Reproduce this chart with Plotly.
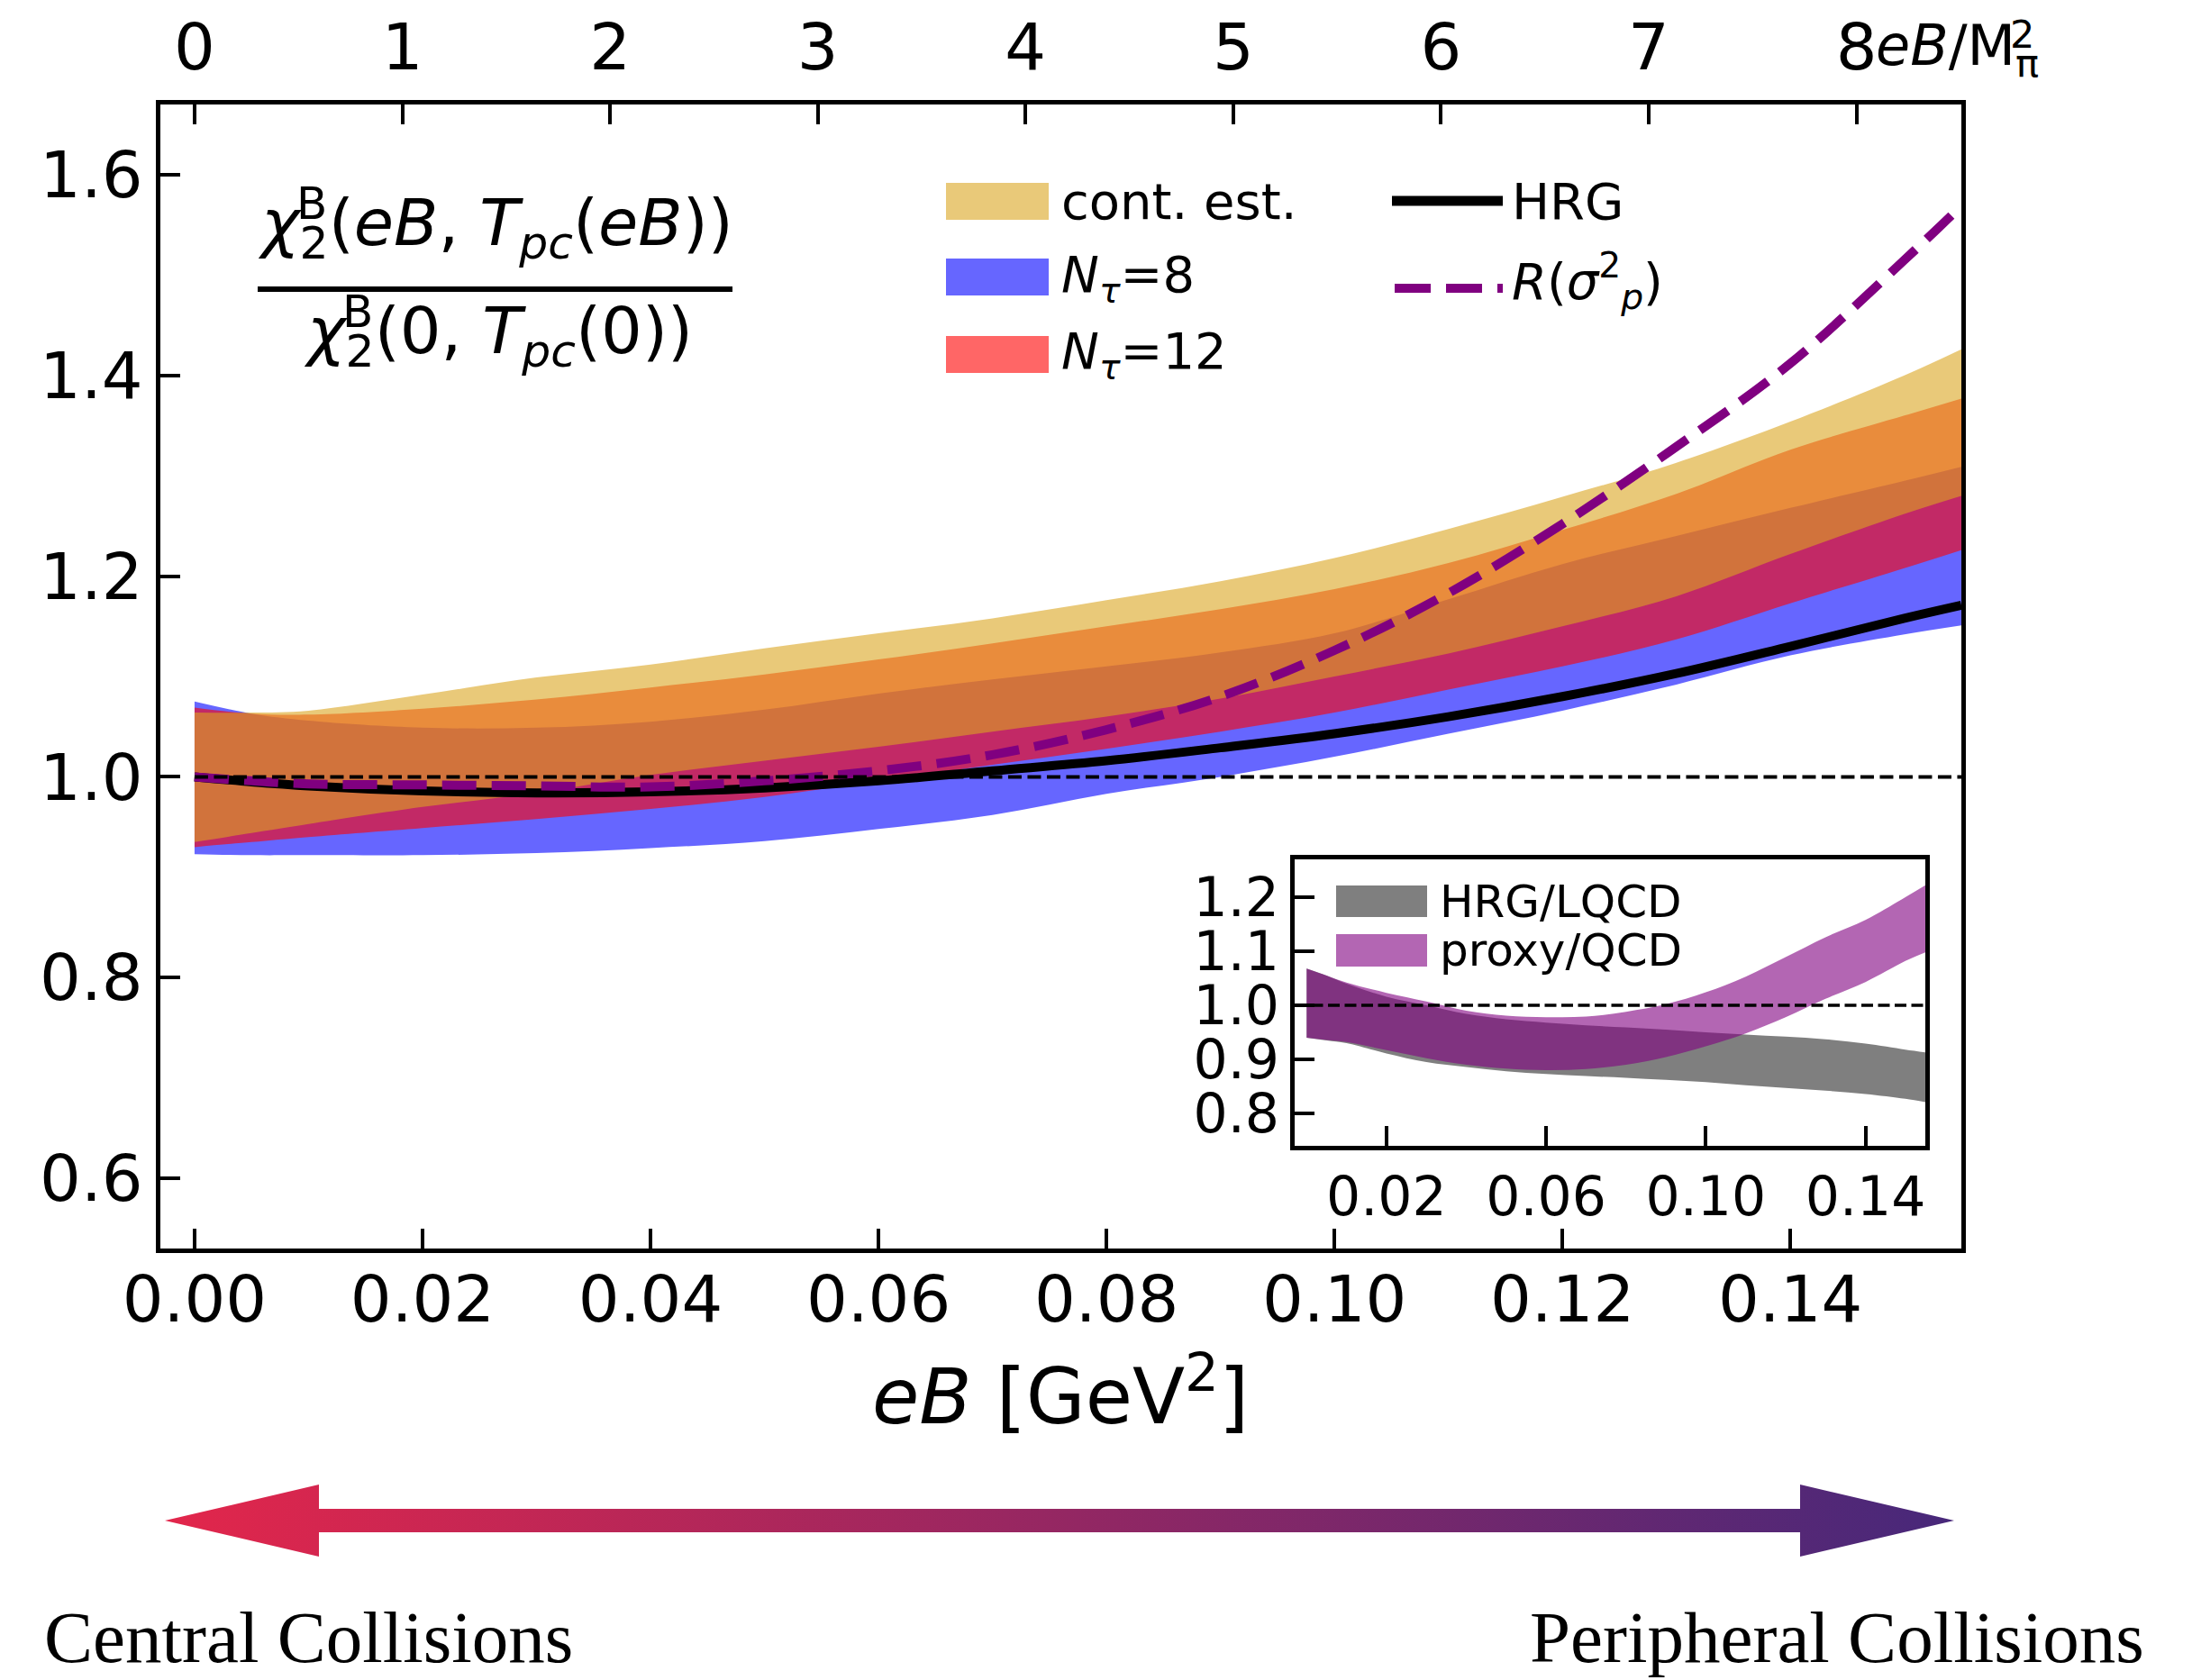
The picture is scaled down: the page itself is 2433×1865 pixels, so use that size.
import plotly.graph_objects as go

W, H = 2433, 1865

# ---------------- data ----------------
eB = [0.0, 0.005, 0.01, 0.02, 0.03, 0.04, 0.05, 0.06, 0.07, 0.08,
      0.09, 0.10, 0.11, 0.12, 0.13, 0.14, 0.15, 0.155]

nt8_lo = [0.923, 0.922, 0.922, 0.922, 0.924, 0.929, 0.936, 0.948, 0.962, 0.983,
          1.000, 1.020, 1.043, 1.066, 1.092, 1.121, 1.142, 1.151]
nt8_hi = [1.075, 1.063, 1.056, 1.049, 1.049, 1.055, 1.067, 1.083, 1.097, 1.110,
          1.124, 1.143, 1.177, 1.212, 1.240, 1.268, 1.295, 1.309]
nt12_lo = [0.930, 0.935, 0.940, 0.949, 0.958, 0.968, 0.980, 0.996, 1.012, 1.028,
           1.045, 1.064, 1.087, 1.110, 1.137, 1.173, 1.208, 1.226]
nt12_hi = [1.069, 1.063, 1.062, 1.068, 1.077, 1.089, 1.102, 1.117, 1.133, 1.150,
           1.167, 1.187, 1.213, 1.246, 1.282, 1.326, 1.360, 1.377]
cont_lo = [0.935, 0.944, 0.953, 0.970, 0.984, 1.002, 1.016, 1.030, 1.045, 1.060,
           1.078, 1.100, 1.123, 1.150, 1.180, 1.222, 1.262, 1.280]
cont_hi = [1.064, 1.064, 1.066, 1.082, 1.099, 1.112, 1.128, 1.143, 1.158, 1.176,
           1.195, 1.218, 1.247, 1.279, 1.313, 1.354, 1.400, 1.426]
hrg = [1.000, 0.995, 0.991, 0.986, 0.984, 0.985, 0.989, 0.996, 1.006, 1.016,
       1.029, 1.043, 1.060, 1.080, 1.103, 1.130, 1.158, 1.171]
r_sigma = [1.000, 0.996, 0.993, 0.992, 0.991, 0.990, 0.996, 1.006, 1.022, 1.047,
           1.080, 1.126, 1.183, 1.252, 1.329, 1.412, 1.515, 1.569]

# inset ratios
hrg_lqcd_lo = [0.940, 0.935, 0.930, 0.911, 0.895, 0.886, 0.878, 0.873, 0.869, 0.866,
               0.862, 0.858, 0.852, 0.847, 0.842, 0.836, 0.827, 0.821]
hrg_lqcd_hi = [1.068, 1.055, 1.040, 1.016, 1.000, 0.984, 0.974, 0.968, 0.963, 0.959,
               0.955, 0.950, 0.946, 0.942, 0.937, 0.929, 0.918, 0.913]
proxy_lo = [0.940, 0.936, 0.932, 0.917, 0.902, 0.890, 0.883, 0.880, 0.882, 0.890,
            0.904, 0.924, 0.948, 0.978, 1.012, 1.043, 1.082, 1.098]
proxy_hi = [1.068, 1.055, 1.042, 1.023, 1.007, 0.990, 0.981, 0.978, 0.979, 0.988,
            1.002, 1.024, 1.053, 1.089, 1.126, 1.158, 1.200, 1.222]

x_ticks = [0.00, 0.02, 0.04, 0.06, 0.08, 0.10, 0.12, 0.14]
y_ticks = [0.6, 0.8, 1.0, 1.2, 1.4, 1.6]
top_ticks = [0, 1, 2, 3, 4, 5, 6, 7, 8]
inset_x_ticks = [0.02, 0.06, 0.10, 0.14]
inset_y_ticks = [0.8, 0.9, 1.0, 1.1, 1.2]

X_RANGE = [-0.003, 0.155]
Y_RANGE = [0.53, 1.67]
INSET_Y_RANGE = [0.74, 1.27]
M_PI2 = 0.135 ** 2
REF_LEVEL = 1.0

# ---------------- styles ----------------
BLUE = 'rgba(0,0,255,0.6)'
RED = 'rgba(255,0,0,0.6)'
GOLD = 'rgba(218,165,32,0.6)'
GRAY = 'rgba(0,0,0,0.5)'
PURP = 'rgba(128,0,128,0.6)'
FONT = 'DejaVu Sans'

fig = go.Figure()


def band(lo, hi, color, xa='x', ya='y'):
    fig.add_trace(go.Scatter(x=eB, y=lo, xaxis=xa, yaxis=ya, mode='lines',
                             line=dict(width=0, shape='spline'),
                             showlegend=False, hoverinfo='skip'))
    fig.add_trace(go.Scatter(x=eB, y=hi, xaxis=xa, yaxis=ya, mode='lines',
                             line=dict(width=0, shape='spline'),
                             fill='tonexty', fillcolor=color,
                             showlegend=False, hoverinfo='skip'))


# main bands
band(nt8_lo, nt8_hi, BLUE)
band(nt12_lo, nt12_hi, RED)
band(cont_lo, cont_hi, GOLD)

fig.add_trace(go.Scatter(x=eB, y=hrg, mode='lines',
                         line=dict(color='black', width=10, shape='spline'),
                         showlegend=False))
fig.add_trace(go.Scatter(x=eB, y=r_sigma, mode='lines',
                         line=dict(color='#800080', width=10, shape='spline',
                                   dash='38px,17px'),
                         showlegend=False))

# dummy trace for the top axis
fig.add_trace(go.Scatter(x=[], y=[], xaxis='x2', yaxis='y', showlegend=False))

# inset bands
band(hrg_lqcd_lo, hrg_lqcd_hi, GRAY, 'x4', 'y4')
band(proxy_lo, proxy_hi, PURP, 'x4', 'y4')

# decorative arrow (pixel-coordinate helper axes)
ax_l, ax_r = 183, 2169
hb_l, hb_r = 354, 1998
yc, shaft_h, head_h = 1688, 13, 40
arrow_x = [ax_l, hb_l, hb_l, hb_r, hb_r, ax_r, hb_r, hb_r, hb_l, hb_l, ax_l]
arrow_y = [yc, yc - head_h, yc - shaft_h, yc - shaft_h, yc - head_h, yc,
           yc + head_h, yc + shaft_h, yc + shaft_h, yc + head_h, yc]
fig.add_trace(go.Scatter(x=arrow_x, y=arrow_y, xaxis='x3', yaxis='y3',
                         mode='lines', line=dict(width=0), fill='toself',
                         fillgradient=dict(type='horizontal',
                                           colorscale=[[0, '#e2264b'], [1, '#47287a']]),
                         showlegend=False, hoverinfo='skip'))

# ---------------- axes ----------------
common = dict(showgrid=False, zeroline=False, ticks='inside', color='black',
              automargin=False,
              tickfont=dict(family=FONT, size=72, color='black'))
inset_common = dict(showgrid=False, zeroline=False, ticks='inside', color='black',
                    automargin=False, ticklen=22, tickwidth=3.5,
                    showline=True, linewidth=5, linecolor='black', mirror=True,
                    tickfont=dict(family=FONT, size=60, color='black'))

fig.update_layout(
    width=W, height=H,
    margin=dict(l=0, r=0, t=0, b=0, autoexpand=False),
    paper_bgcolor='white', plot_bgcolor='rgba(0,0,0,0)',
    showlegend=False,
    xaxis=dict(domain=[178 / W, 2177 / W], range=X_RANGE, anchor='y',
               tickvals=x_ticks, tickformat='.2f', ticklen=22, tickwidth=3.5,
               showline=True, linewidth=5, linecolor='black', mirror=True,
               ticklabelstandoff=-10, **common),
    yaxis=dict(domain=[1 - 1386 / H, 1 - 116 / H], range=Y_RANGE, anchor='x',
               tickvals=y_ticks, tickformat='.1f', ticklen=22, tickwidth=3.5,
               showline=True, linewidth=5, linecolor='black', mirror=True,
               **common),
    xaxis2=dict(overlaying='x', side='top', anchor='y',
                range=[X_RANGE[0] / M_PI2, X_RANGE[1] / M_PI2],
                tickvals=top_ticks, ticktext=[str(t) for t in top_ticks],
                ticklen=22, tickwidth=3.5, showline=False, ticklabelstandoff=24,
                **common),
    xaxis3=dict(domain=[0, 1], range=[0, W], anchor='y3', visible=False,
                automargin=False),
    yaxis3=dict(domain=[0, 1], range=[H, 0], anchor='x3', visible=False,
                automargin=False),
    xaxis4=dict(domain=[1437 / W, 2137 / W], range=X_RANGE, anchor='y4',
                tickvals=inset_x_ticks, tickformat='.2f', **inset_common),
    yaxis4=dict(domain=[1 - 1272 / H, 1 - 954 / H], range=INSET_Y_RANGE, anchor='x4',
                tickvals=inset_y_ticks, tickformat='.1f', **inset_common),
)

# ---------------- shapes ----------------
shapes = [
    # reference lines at 1
    dict(type='line', xref='x', yref='y', x0=0, x1=X_RANGE[1], y0=REF_LEVEL, y1=REF_LEVEL,
         line=dict(color='black', width=4, dash='15px,6.5px'), layer='above'),
    dict(type='line', xref='x4', yref='y4', x0=X_RANGE[0], x1=X_RANGE[1],
         y0=REF_LEVEL, y1=REF_LEVEL,
         line=dict(color='black', width=3.5, dash='13px,5.5px'), layer='above'),
    # fraction bar
    dict(type='line', xref='x3', yref='y3', x0=286, x1=813, y0=321, y1=321,
         line=dict(color='black', width=6)),
    # legend patches
    dict(type='rect', xref='x3', yref='y3', x0=1050, x1=1164, y0=203, y1=244,
         fillcolor=GOLD, line=dict(width=0)),
    dict(type='rect', xref='x3', yref='y3', x0=1050, x1=1164, y0=287, y1=328,
         fillcolor=BLUE, line=dict(width=0)),
    dict(type='rect', xref='x3', yref='y3', x0=1050, x1=1164, y0=373, y1=414,
         fillcolor=RED, line=dict(width=0)),
    dict(type='line', xref='x3', yref='y3', x0=1545, x1=1668, y0=223, y1=223,
         line=dict(color='black', width=11)),
    dict(type='line', xref='x3', yref='y3', x0=1548, x1=1668, y0=320, y1=320,
         line=dict(color='#800080', width=10, dash='40px,17px')),
    # inset legend patches
    dict(type='rect', xref='x3', yref='y3', x0=1483, x1=1584, y0=983, y1=1018,
         fillcolor=GRAY, line=dict(width=0)),
    dict(type='rect', xref='x3', yref='y3', x0=1483, x1=1584, y0=1037, y1=1073,
         fillcolor=PURP, line=dict(width=0)),
]
fig.update_layout(shapes=shapes)


def txt(x, y, text, size, xanchor='center', family=FONT, yanchor='middle'):
    return dict(xref='x3', yref='y3', x=x, y=y, text=text, showarrow=False,
                xanchor=xanchor, yanchor=yanchor,
                font=dict(family=family, size=size, color='black'))


annotations = [
    # fraction (superscript B stacked above the subscript 2 as separate text)
    txt(284, 252, '<i>χ</i><sub>2</sub>(<i>eB</i>, <i>T</i><sub><i>pc</i></sub>(<i>eB</i>))',
        72, 'left'),
    txt(346, 226, 'B', 50),
    txt(335, 372, '<i>χ</i><sub>2</sub>(0, <i>T</i><sub><i>pc</i></sub>(0))', 72, 'left'),
    txt(397, 346, 'B', 50),
    # legend
    txt(1176, 223, 'cont. est.', 56, 'left'),
    txt(1176, 308, '<i>N</i><sub><i>τ</i></sub>=8', 56, 'left'),
    txt(1176, 393, '<i>N</i><sub><i>τ</i></sub>=12', 56, 'left'),
    txt(1676, 223, 'HRG', 56, 'left'),
    txt(1676, 312, '<i>R</i>(<i>σ</i><sup>2</sup><sub><i>p</i></sub>)', 56, 'left'),
    txt(1596, 1001, 'HRG/LQCD', 50, 'left'),
    txt(1596, 1055, 'proxy/QCD', 50, 'left'),
    # top axis unit label: M with stacked superscript 2 / subscript pi
    txt(2080, 54, '<i>eB</i>/M<sub>π</sub>', 62, 'left'),
    txt(2244, 38, '2', 43),
    txt(1177, 1544, '<i>eB</i> [GeV<sup>2</sup>]', 85),
    txt(47, 1818, 'Central Collisions', 81, 'left', 'Liberation Serif'),
    txt(2382, 1818, 'Peripheral Collisions', 81, 'right', 'Liberation Serif'),
]
fig.update_layout(annotations=annotations)

fig.write_html('out.html')
